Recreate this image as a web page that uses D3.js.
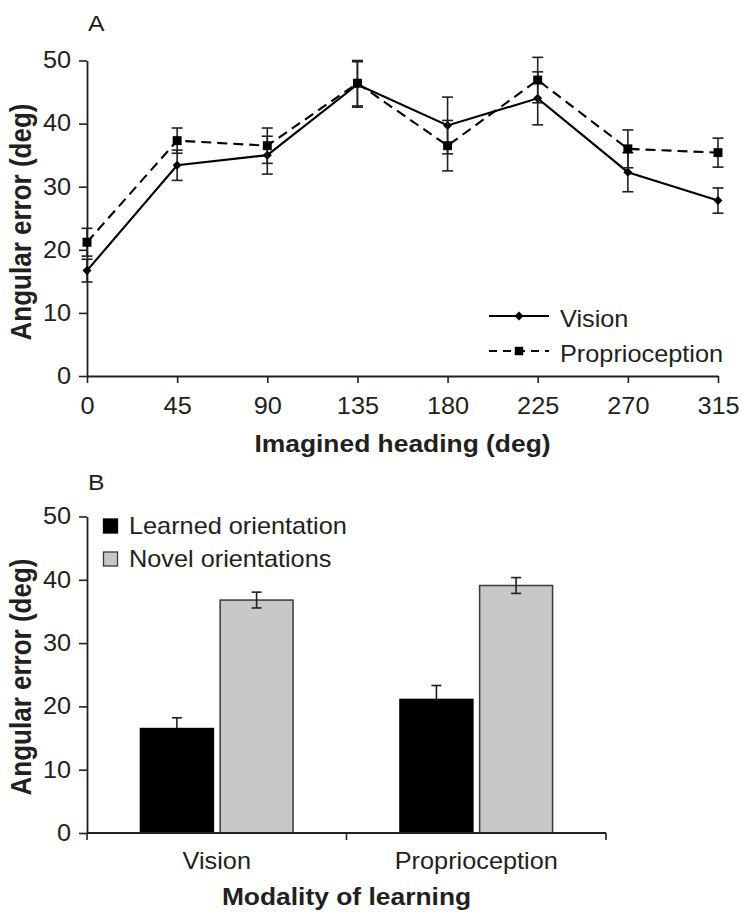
<!DOCTYPE html>
<html>
<head>
<meta charset="utf-8">
<script src="https://cdn.jsdelivr.net/npm/d3@7"></script>
<style>
  html, body { margin: 0; padding: 0; background: #fff; }
  svg { display: block; }
  text { font-family: "Liberation Sans", Arial, Helvetica, sans-serif; fill: #231f20; }
</style>
</head>
<body>
<svg id="chart" width="743" height="912"></svg>
<script>
// ---------- Data ----------
const headings = [0, 45, 90, 135, 180, 225, 270, 315];
const headingTicks = ["0", "45", "90", "135", "180", "225", "270", "315"];
const visionMean = [16.7, 33.4, 35.0, 46.2, 39.7, 44.0, 32.3, 27.8];
const visionErr  = [1.8, 2.4, 3.0, 3.6, 4.5, 4.2, 3.1, 2.0];
const propMean   = [21.2, 37.3, 36.5, 46.4, 36.5, 46.9, 36.0, 35.4];
const propErr    = [2.2, 2.0, 2.8, 3.6, 4.0, 3.6, 3.0, 2.3];
const yTicks = [0, 10, 20, 30, 40, 50];

const modalities = ["Vision", "Proprioception"];
const orientationSeries = ["Learned orientation", "Novel orientations"];
const learnedMean = [16.5, 21.1];
const learnedErr  = [1.7, 2.2];
const novelMean   = [36.8, 39.1];
const novelErr    = [1.25, 1.25];

// ---------- Setup ----------
const S = 1.1; // horizontal text stretch
const ink = "#231f20";
const svg = d3.select("#chart");

function stext(x, y, str, opts = {}) {
  const t = svg.append("text")
    .attr("transform", `translate(${x},${y}) scale(${S},1)` + (opts.rotate ? ` rotate(${opts.rotate})` : ""))
    .attr("text-anchor", opts.anchor || "start")
    .style("font-size", (opts.size || 23) + "px")
    .style("font-weight", opts.bold ? "bold" : "normal")
    .text(str);
  return t;
}

// ================= Panel A =================
const xA = d3.scaleLinear().domain([0, 315]).range([87, 718]);
const yA = d3.scaleLinear().domain([0, 50]).range([376, 60.5]);

const gAx = svg.append("g").attr("transform", `translate(0,${yA(0)})`)
  .call(d3.axisBottom(xA).tickValues(headings).tickFormat((d, i) => headingTicks[i])
    .tickSize(7).tickSizeOuter(0).tickPadding(15));
const gAy = svg.append("g").attr("transform", `translate(${xA(0)},0)`)
  .call(d3.axisLeft(yA).tickValues(yTicks).tickSize(8).tickSizeOuter(0).tickPadding(6.5));

[gAx, gAy].forEach(g => {
  g.select(".domain").attr("stroke", ink).attr("stroke-width", 1.8);
  g.selectAll(".tick line").attr("stroke", ink).attr("stroke-width", 1.6);
  g.selectAll(".tick text").attr("fill", ink)
    .style("font-size", "23px").style("font-family", '"Liberation Sans", Arial, sans-serif')
    .attr("transform", `scale(${S},1)`);
});

const seriesA = [
  { mean: visionMean, err: visionErr, dash: null, marker: d3.symbolDiamond2, msize: 52 },
  { mean: propMean, err: propErr, dash: "10,6", marker: d3.symbolSquare, msize: 80 }
];

const lineGen = d3.line().x((d, i) => xA(headings[i])).y(d => yA(d));

seriesA.forEach(s => {
  const g = svg.append("g");
  headings.forEach((h, i) => {
    const x = xA(h), lo = yA(s.mean[i] - s.err[i]), hi = yA(s.mean[i] + s.err[i]);
    g.append("line").attr("x1", x).attr("x2", x).attr("y1", lo).attr("y2", hi)
      .attr("stroke", ink).attr("stroke-width", 1.6);
    [lo, hi].forEach(yy => g.append("line").attr("x1", x - 5.5).attr("x2", x + 5.5)
      .attr("y1", yy).attr("y2", yy).attr("stroke", ink).attr("stroke-width", 1.6));
  });
  g.append("path").datum(s.mean).attr("d", lineGen).attr("fill", "none")
    .attr("stroke", "#000").attr("stroke-width", 2.1)
    .attr("stroke-dasharray", s.dash);
  g.selectAll("path.m").data(s.mean).enter().append("path").attr("class", "m")
    .attr("d", d3.symbol().type(s.marker).size(s.msize))
    .attr("transform", (d, i) => `translate(${xA(headings[i])},${yA(d)})`)
    .attr("fill", "#000");
});

// Legend A
const legA = [
  { label: "Vision", dash: null, marker: d3.symbolDiamond2, msize: 52, y: 316 },
  { label: "Proprioception", dash: "8,6", marker: d3.symbolSquare, msize: 72, y: 351 }
];
legA.forEach(l => {
  svg.append("line").attr("x1", 489).attr("x2", 549).attr("y1", l.y).attr("y2", l.y)
    .attr("stroke", "#000").attr("stroke-width", 1.8).attr("stroke-dasharray", l.dash);
  svg.append("path").attr("d", d3.symbol().type(l.marker).size(l.msize)())
    .attr("transform", `translate(519,${l.y})`).attr("fill", "#000");
  stext(560, l.y + 10.5, l.label, { size: 23 });
});

stext(88, 31, "A", { size: 22.5 });
stext((xA(0) + xA(315)) / 2, 452, "Imagined heading (deg)", { size: 24, bold: true, anchor: "middle" });
stext(31, 222, "Angular error (deg)", { size: 26, bold: true, anchor: "middle", rotate: -90 });

// ================= Panel B =================
const xB = d3.scaleBand().domain(modalities).range([87, 606]);
const yB = d3.scaleLinear().domain([0, 50]).range([833, 516.5]);
const inner = d3.scaleBand().domain(orientationSeries)
  .range([xB.bandwidth() * 0.206, xB.bandwidth() * 0.794]).paddingInner(0.085);

const gBy = svg.append("g").attr("transform", `translate(${xB.range()[0]},0)`)
  .call(d3.axisLeft(yB).tickValues(yTicks).tickSize(8).tickSizeOuter(0).tickPadding(6.5));
gBy.select(".domain").attr("stroke", ink).attr("stroke-width", 1.8);
gBy.selectAll(".tick line").attr("stroke", ink).attr("stroke-width", 1.6);
gBy.selectAll(".tick text").attr("fill", ink)
  .style("font-size", "23px").style("font-family", '"Liberation Sans", Arial, sans-serif')
  .attr("transform", `scale(${S},1)`);

const barData = [];
modalities.forEach((m, i) => {
  barData.push({ m, s: orientationSeries[0], v: learnedMean[i], e: learnedErr[i], fill: "#000", stroke: "#000", oneSided: true });
  barData.push({ m, s: orientationSeries[1], v: novelMean[i], e: novelErr[i], fill: "#c8c8c8", stroke: "#3a3a3a", oneSided: false });
});

const gBars = svg.append("g");
barData.forEach(b => {
  const x0 = xB(b.m) + inner(b.s), w = inner.bandwidth();
  gBars.append("rect").attr("x", x0).attr("y", yB(b.v)).attr("width", w)
    .attr("height", yB(0) - yB(b.v)).attr("fill", b.fill)
    .attr("stroke", b.stroke).attr("stroke-width", 1.5);
  const cx = x0 + w / 2;
  const hi = yB(b.v + b.e), lo = b.oneSided ? yB(b.v) : yB(b.v - b.e);
  gBars.append("line").attr("x1", cx).attr("x2", cx).attr("y1", lo).attr("y2", hi)
    .attr("stroke", ink).attr("stroke-width", 1.6);
  const caps = b.oneSided ? [hi] : [lo, hi];
  caps.forEach(yy => gBars.append("line").attr("x1", cx - 5).attr("x2", cx + 5)
    .attr("y1", yy).attr("y2", yy).attr("stroke", ink).attr("stroke-width", 1.6));
});

// x axis B (drawn from band scale)
const xr = xB.range();
svg.append("line").attr("x1", xr[0]).attr("x2", xr[1]).attr("y1", yB(0)).attr("y2", yB(0))
  .attr("stroke", ink).attr("stroke-width", 1.8);
const boundaries = [xB(modalities[0]), xB(modalities[1]), xB(modalities[1]) + xB.bandwidth()];
boundaries.forEach(bx => svg.append("line").attr("x1", bx).attr("x2", bx)
  .attr("y1", yB(0)).attr("y2", yB(0) + 7).attr("stroke", ink).attr("stroke-width", 1.6));
modalities.forEach(m => stext(xB(m) + xB.bandwidth() / 2, 869, m, { size: 23, anchor: "middle" }));

// Legend B
orientationSeries.forEach((s, i) => {
  const y = 526 + i * 33;
  svg.append("rect").attr("x", 103.5).attr("y", y - 7).attr("width", 14).attr("height", 14)
    .attr("fill", i === 0 ? "#000" : "#c8c8c8").attr("stroke", i === 0 ? "#000" : "#3a3a3a").attr("stroke-width", 1.3);
  stext(129, y + 8, s, { size: 23 });
});

stext(88, 490, "B", { size: 22.5 });
stext((xr[0] + xr[1]) / 2, 905, "Modality of learning", { size: 24, bold: true, anchor: "middle" });
stext(31, 677, "Angular error (deg)", { size: 26, bold: true, anchor: "middle", rotate: -90 });
</script>
</body>
</html>
